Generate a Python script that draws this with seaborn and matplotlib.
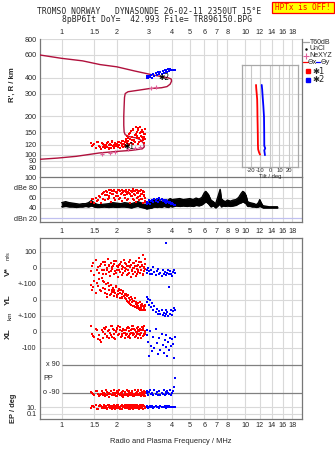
import numpy as np
import pandas as pd
import matplotlib
matplotlib.use("Agg")
import matplotlib.pyplot as plt
from matplotlib.lines import Line2D
from matplotlib.patches import Rectangle
from matplotlib.ticker import NullLocator
import seaborn as sns

# ---------------- data ----------------
freq_ticks = [1, 1.5, 2, 3, 4, 5, 6, 7, 8, 10, 12, 14, 16, 18]
freq_ticks_mid = [1, 1.5, 2, 3, 4, 5, 6, 7, 8, 9, 10, 12, 14, 16, 18]
height_ticks = [80, 90, 100, 120, 150, 200, 300, 400, 600, 800]
dbe_ticks = [20, 40, 60, 80, 100]
dbe_tick_labels = ["dBn 20", "40", "60", "dBe 80", "100"]
lower_tick_labels = ["100", "0", "+-100", "0", "+-100", "0", "-100"]
ep_tick_values = [10, 0.1]
ep_tick_labels = ["10.", "0.1"]
tilt_ticks = [-20, -10, 0, 10, 20]

# true-height / virtual-height profile (MHz, km)
profile_f = [0.762, 1.0, 1.3, 1.62, 2.0, 2.5, 3.0, 3.4, 3.8, 3.95, 3.97, 3.9, 3.75, 3.5,
             3.0, 2.6, 2.3, 2.22, 2.2, 2.19, 2.18, 2.18, 2.19, 2.22, 2.35, 2.55, 2.7,
             2.8, 2.82, 2.75, 2.4, 2.0, 1.6, 1.2, 0.95, 0.762]
profile_h = [600, 565, 540, 505, 485, 450, 425, 410, 398, 390, 375, 355, 340, 333,
             328, 318, 310, 300, 280, 240, 200, 170, 150, 143, 138, 135, 130,
             122, 115, 111, 108, 106, 103, 97, 94, 92]

nexyz_f = [1.66, 1.84, 1.95, 2.31, 2.51, 2.67, 3.08, 3.28]
nexyz_h = [102, 103, 104, 110, 112, 114, 333, 340]

# ordinary echoes (*1), first sweep
red_f = [1.44, 1.46, 1.50, 1.53, 1.57, 1.60, 1.63, 1.66, 1.68, 1.70,
         1.72, 1.74, 1.76, 1.78, 1.80, 1.82, 1.84, 1.86, 1.88, 1.90,
         1.92, 1.94, 1.96, 1.98, 2.00, 2.02, 2.04, 2.06, 2.08, 2.10,
         2.12, 2.14, 2.16, 2.18, 2.20, 2.22, 2.24, 2.26, 2.28, 2.30,
         2.32, 2.34, 2.36, 2.38, 2.40, 2.42, 2.44, 2.46, 2.48, 2.50,
         2.52, 2.54, 2.56, 2.58, 2.60, 2.62, 2.64, 2.66, 2.68, 2.70,
         2.72, 2.74, 2.76, 2.78, 2.80, 2.82, 2.84, 2.86]
red_h = [124, 117, 121, 113, 126, 116, 111, 123, 114, 119,
         112, 120, 115, 125, 111, 118, 122, 113, 127, 116,
         120, 112, 124, 117, 121, 114, 126, 118, 113, 123,
         117, 128, 115, 121, 125, 119, 132, 123, 141, 127,
         118, 146, 133, 124, 152, 137, 121, 158, 130, 143,
         126, 163, 139, 150, 122, 155, 134, 147, 165, 128,
         141, 157, 132, 150, 137, 124, 160, 144]
red_dbe = [52, 58, 50, 60, 55, 63, 49, 66, 58, 70,
           55, 72, 64, 58, 74, 62, 69, 52, 73, 66,
           60, 75, 56, 71, 68, 74, 62, 58, 72, 66,
           75, 54, 70, 64, 72, 60, 74, 66, 55, 71,
           68, 75, 50, 73, 62, 70, 76, 58, 66, 72,
           64, 52, 74, 60, 70, 68, 55, 73, 62, 75,
           58, 66, 72, 50, 64, 70, 54, 60]
red_v = [-20, 10, -45, 50, 5, -30, 25, -10, 40, -15,
         20, -35, 0, 55, -25, 15, -50, 30, -5, 10,
         -40, 25, -20, 45, -10, 5, -55, 20, -25, 35,
         -5, 15, -30, 50, 0, -20, 25, -45, 10, -15,
         40, -30, 5, -55, 20, -10, 30, -35, 0, 15,
         -25, 45, -5, -40, 20, -15, 60, 5, -30, 35,
         -10, 15, -45, 80, 0, -20, 25, -5]
red_yl = [95, 60, 120, 45, 85, 130, 55, 140, 75, 110,
          45, 100, 20, 105, 60, 85, 30, 95, 50, 75,
          25, 65, 45, 80, 20, 55, 35, 70, 15, 60,
          40, 10, 55, 25, 35, 10, 40, -5, 25, -15,
          15, -10, -25, 20, -30, 5, -40, -5, -35, 10,
          -45, -10, -30, -50, -20, -40, -55, -15, -60, -30,
          -50, -25, -65, -35, -45, -55, -40, -60]
red_xl = [40, -10, -30, 20, -45, -20, -60, 10, -35, 25,
          -15, 30, -25, 5, -40, 15, -5, 40, -30, 20,
          -15, 10, -45, 0, 25, -20, 35, -10, 15, -30,
          5, -15, 20, -5, -35, 10, -20, 25, -10, 30,
          -25, 5, -40, 15, -5, 20, -20, 35, -10, 10,
          -30, 0, 25, -15, 15, -35, 5, 20, -20, 10,
          -5, 30, -25, 15, -10, 40, 0, -15]
red_pp = [-85, -92, -100, -80, -95, -110, -98, -75, -102, -90,
          -96, -70, -104, -92, -88, -115, -95, -78, -100, -93,
          -106, -72, -97, -90, -112, -85, -99, -68, -104, -88,
          -96, -108, -76, -100, -86, -95, -102, -70, -97, -110,
          -90, -74, -99, -105, -92, -80, -101, -94, -108, -72,
          -96, -103, -86, -98, -76, -106, -94, -88, -100, -112,
          -70, -97, -85, -103, -95, -78, -108, -92]
red_ep = [4, 20, 8, 30, 3, 15, 25, 5, 12, 35,
          6, 18, 2.5, 28, 9, 40, 4, 14, 22, 6,
          32, 10, 3, 17, 26, 7, 38, 5, 13, 21,
          3.5, 30, 8, 16, 24, 4, 11, 36, 6, 19,
          2, 27, 9, 33, 5, 15, 23, 3, 12, 29,
          7, 18, 4, 34, 10, 25, 2.5, 14, 31, 6,
          20, 8, 37, 3, 16, 26, 5, 11]

# ordinary echoes (*1), second sweep
red2_f = [1.48, 1.55, 1.62, 1.69, 1.73, 1.77, 1.81, 1.85, 1.89, 1.93,
          1.97, 2.01, 2.05, 2.09, 2.13, 2.17, 2.21, 2.25, 2.29, 2.33,
          2.37, 2.41, 2.45, 2.49, 2.53, 2.57, 2.61, 2.65, 2.69, 2.73,
          2.77, 2.81, 2.85]
red2_h = [119, 125, 115, 121, 117, 124, 113, 120, 126, 114,
          122, 118, 125, 112, 121, 127, 116, 128, 136, 122,
          148, 131, 156, 127, 144, 135, 161, 125, 151, 138,
          129, 146, 132]
red2_dbe = [57, 54, 61, 68, 65, 71, 60, 75, 67, 72,
            63, 70, 74, 59, 69, 73, 64, 71, 58, 75,
            67, 62, 72, 56, 74, 69, 61, 73, 66, 57,
            71, 63, 52]
red2_v = [30, -15, 15, -40, 35, -10, 20, -20, 5, 45,
          -30, 10, -15, 25, -45, 5, 30, -5, -35, 15,
          50, -20, 0, 30, -50, 10, -25, 40, -10, 20,
          -35, 5, 55]
red2_yl = [80, 105, 65, 120, 70, 40, 90, 35, 65, 50,
           85, 30, 60, 45, 20, 50, 30, 5, 30, -20,
           0, -15, -35, -5, -25, -45, -20, -50, -35, -60,
           -40, -55, -30]
red2_xl = [-25, 15, -50, 0, 20, -30, 10, -20, 35, -40,
           5, 20, -15, 30, -25, 10, -5, 15, -30, 25,
           -15, 35, -5, 20, -25, 0, 30, -10, -35, 15,
           25, -20, 5]
red2_pp = [-95, -78, -105, -88, -112, -82, -96, -74, -100, -90,
           -108, -80, -94, -102, -86, -115, -90, -98, -76, -104,
           -92, -84, -110, -96, -88, -100, -72, -106, -94, -82,
           -98, -110, -86]
red2_ep = [15, 3, 28, 7, 20, 4, 35, 10, 2.5, 24,
           6, 31, 13, 3, 18, 9, 38, 5, 22, 12,
           2, 27, 8, 33, 4, 16, 25, 6, 30, 11,
           3.5, 21, 7]

# extraordinary echoes (*2)
blue_f = [2.90, 2.93, 2.96, 3.00, 3.04, 3.08, 3.12, 3.16, 3.20, 3.25,
          3.30, 3.35, 3.40, 3.45, 3.50, 3.55, 3.60, 3.65, 3.68, 3.72,
          3.76, 3.80, 3.84, 3.88, 3.92, 3.97, 4.02, 4.10, 4.15]
blue_h = [400, 410, 395, 415, 405, 420, 400, 425, 410, 435,
          418, 440, 425, 445, 430, 450, 435, 455, 440, 460,
          445, 465, 450, 470, 455, 462, 458, 455, 455]
blue_dbe = [48, 52, 50, 55, 47, 53, 56, 51, 58, 54,
            57, 52, 59, 55, 57, 53, 56, 52, 55, 50,
            54, 51, 49, 52, 48, 50, 47, 46, 45]
blue_v = [-10, -30, 0, -20, -40, -15, -35, 5, -25, -45,
          -20, -5, -40, -30, -50, -15, -35, -25, 158, -45,
          -30, -10, -40, -20, -35, -50, -25, -15, -30]
blue_yl = [20, -10, 5, -30, 0, -45, -20, -60, -40, -75,
           -55, -85, -70, -90, -60, -95, -80, -100, -65, -90,
           -75, -100, 80, -85, -60, -95, -70, -50, -65]
blue_xl = [10, -20, -60, -150, 5, -90, -120, -30, -100, 20,
           -70, -140, -40, -110, -10, -80, -130, -50, -95, -20,
           -150, -60, -110, -35, -90, -45, -75, -160, -30]
blue_pp = [-88, -75, -100, -85, -70, -98, -88, -104, -72, -96,
           -86, -100, -74, -106, -88, -97, -70, -102, -85, -94,
           -78, -88, -96, -72, -105, -88, -76, -50, 5]
blue_ep = [10, 15, 7, 12, 18, 8, 14, 6, 11, 16,
           9, 13, 7, 17, 10, 12, 8, 15, 11, 6,
           14, 9, 16, 10, 8, 12, 10, 10, 10]

# noise level (dBe), lower/upper envelope
noise_f = [1.00, 1.05, 1.10, 1.15, 1.20, 1.25, 1.30, 1.35, 1.40, 1.45,
           1.50, 1.55, 1.60, 1.70, 1.80, 1.90, 2.00, 2.10, 2.20, 2.30,
           2.40, 2.50, 2.60, 2.70, 2.80, 2.90, 3.00, 3.10, 3.20, 3.30,
           3.40, 3.50, 3.60, 3.70, 3.80, 3.90, 4.00, 4.20, 4.40, 4.60,
           4.80, 5.00, 5.20, 5.40, 5.60, 5.80, 6.00, 6.10, 6.30, 6.50,
           6.70, 6.90, 7.10, 7.30, 7.40, 7.60, 7.80, 8.00, 8.30, 8.60,
           8.90, 9.20, 9.50, 9.70, 9.90, 10.1, 10.3, 10.6, 10.9, 11.2,
           11.5, 11.8, 12.0, 12.2, 12.5, 13.0, 13.5, 14.0, 14.5, 15.0]
noise_lo = [42, 43, 42, 42, 41, 42, 42, 43, 42, 44,
            42, 41, 41, 42, 41, 42, 41, 42, 42, 41,
            40, 42, 43, 41, 40, 38, 39, 40, 42, 41,
            42, 41, 43, 42, 41, 43, 42, 44, 43, 44,
            43, 44, 43, 45, 44, 46, 50, 52, 48, 42,
            44, 40, 44, 48, 42, 44, 43, 44, 43, 44,
            45, 48, 50, 52, 50, 48, 43, 43, 42, 42,
            41, 42, 43, 42, 40, 40, 40, 40, 40, 40]
noise_hi = [50, 52, 50, 49, 48, 47, 48, 48, 50, 54,
            50, 47, 46, 47, 48, 50, 49, 48, 50, 49,
            48, 50, 52, 50, 47, 47, 52, 55, 54, 57,
            55, 52, 56, 54, 55, 58, 56, 57, 58, 56,
            57, 58, 56, 59, 57, 60, 70, 72, 66, 55,
            52, 48, 62, 76, 58, 54, 52, 55, 53, 55,
            56, 60, 68, 72, 70, 64, 52, 50, 49, 48,
            46, 50, 56, 50, 44, 43, 42, 42, 42, 42]

# tilt profiles (deg vs km)
tiltx_deg = [-14.7, -14.5, -14.0, -13.5, -13.3, -13.2, -13.0, -12.8, -12.7, -12.5, -11.5, -10.5]
tiltx_h = [350, 330, 300, 270, 230, 200, 170, 140, 120, 110, 104, 100]
tilty_deg = [-8.7, -8.2, -7.7, -7.0, -6.3, -6.1, -6.0, -5.0, -6.0, -5.3]
tilty_h = [350, 320, 282, 240, 198, 150, 117, 112, 108, 99]

# ---------------- style ----------------
sns.set_style("white")
plt.rcParams["font.family"] = ["Liberation Sans", "DejaVu Sans"]
plt.rcParams["font.size"] = 5.2

W, H = 335, 451
fig = plt.figure(figsize=(W / 100, H / 100), dpi=100)


def rect(x0, y0, x1, y1):
    return [x0 / W, 1 - y1 / H, (x1 - x0) / W, (y1 - y0) / H]


def fx(px):
    return px / W


def fy(py):
    return 1 - py / H


RED = "#ff0000"
BLUE = "#0000ff"
CRIMSON = "#b0103c"
PINK = "#e0609a"
GRID = "#d9d9d9"
DARK = "#777777"
XLIM = (0.762, 20.4)
MS = 4.0

ax_h = fig.add_axes(rect(40, 39, 302, 177))
ax_db = fig.add_axes(rect(40, 177, 302, 222))
ax_lo = fig.add_axes(rect(40, 238, 302, 419))
ax_t = fig.add_axes(rect(241.7, 65, 297.7, 167))


def freq_axis(ax, ticks, show, where):
    ax.set_xscale("log")
    ax.set_xlim(*XLIM)
    ax.set_xticks(ticks)
    ax.set_xticklabels([("%g" % t) for t in ticks] if show else [])
    ax.xaxis.set_minor_locator(NullLocator())
    ax.tick_params(axis="x", length=0, pad=2.5, labelsize=5.2,
                   top=(where == "top"), labeltop=(where == "top" and show),
                   bottom=(where == "bottom"), labelbottom=(where == "bottom" and show))
    for t in freq_ticks:
        ax.axvline(t, color=GRID, lw=0.8, zorder=0)


def squares(ax, x, y, color):
    sns.scatterplot(x=x, y=y, ax=ax, color=color, marker="s", s=MS,
                    linewidth=0, zorder=4)


all_red_f = red_f + red2_f

# ---- height panel ----
freq_axis(ax_h, freq_ticks, True, "top")
ax_h.set_yscale("log")
ax_h.set_ylim(66.9, 800)
ax_h.set_yticks(height_ticks)
ax_h.set_yticklabels([str(h) for h in height_ticks])
ax_h.yaxis.set_minor_locator(NullLocator())
ax_h.tick_params(axis="y", length=0, pad=2.5, labelsize=5.2)
for h in height_ticks:
    ax_h.axhline(h, color=GRID, lw=0.8, zorder=0)
for s in ["top", "bottom"]:
    ax_h.spines[s].set_visible(False)
for s in ["left", "right"]:
    ax_h.spines[s].set_color(DARK)
    ax_h.spines[s].set_linewidth(0.9)

sns.lineplot(x=profile_f, y=profile_h, sort=False, estimator=None, ax=ax_h,
             color=CRIMSON, lw=1.0, zorder=3)
squares(ax_h, all_red_f, red_h + red2_h, RED)
squares(ax_h, blue_f, blue_h, BLUE)
sns.scatterplot(x=nexyz_f, y=nexyz_h, ax=ax_h, color=PINK, marker="+", s=10,
                linewidth=0.8, zorder=5)
ax_h.text(2.16, 115, "\u27311", fontsize=5.5, color="black", va="center", ha="left",
          family=["DejaVu Sans"], zorder=6)
ax_h.text(3.35, 400, "\u27312", fontsize=5.5, color="black", va="center", ha="left",
          family=["DejaVu Sans"], zorder=6)
ax_h.set_xlabel("")
ax_h.set_ylabel("")

# ---- tilt inset ----
ax_t.set_facecolor("none")
ax_t.set_xlim(-29.8, 29.2)
ax_t.set_yscale("log")
ax_t.set_ylim(80, 501)
ax_t.set_yticks([])
ax_t.yaxis.set_minor_locator(NullLocator())
ax_t.set_xticks(tilt_ticks)
ax_t.set_xticklabels(["%d" % t for t in tilt_ticks])
ax_t.tick_params(axis="x", length=0, pad=1.0, labelsize=4.2)
for t in tilt_ticks:
    ax_t.axvline(t, color="#c8c8c8", lw=0.8, zorder=0)
for s in ax_t.spines.values():
    s.set_color("#a8a8a8")
    s.set_linewidth(0.9)
sns.lineplot(x=tiltx_deg, y=tiltx_h, sort=False, estimator=None, ax=ax_t,
             color=RED, lw=1.3)
sns.lineplot(x=tilty_deg, y=tilty_h, sort=False, estimator=None, ax=ax_t,
             color=BLUE, lw=1.3)
ax_t.set_xlabel("Tilt / deg", fontsize=4.2, labelpad=0.2)
ax_t.set_ylabel("")

# ---- dBe panel ----
freq_axis(ax_db, freq_ticks_mid, True, "bottom")
ax_db.tick_params(axis="x", pad=4)
ax_db.set_ylim(12.2, 100)
ax_db.set_yticks(dbe_ticks)
ax_db.set_yticklabels(dbe_tick_labels)
ax_db.tick_params(axis="y", length=0, pad=2.5, labelsize=5.2)
ax_db.axhline(80, color="#909090", lw=0.8, zorder=0)
ax_db.axhline(60, color=GRID, lw=0.8, zorder=0)
ax_db.axhline(40, color=GRID, lw=0.8, zorder=0)
ax_db.axhline(20, color="#c0c0f0", lw=0.9, zorder=0)
for s in ax_db.spines.values():
    s.set_color(DARK)
    s.set_linewidth(0.9)
ax_db.fill_between(noise_f, noise_lo, noise_hi, color="black", lw=0.6, zorder=2)
sns.lineplot(x=noise_f, y=noise_hi, ax=ax_db, color="black", lw=0.9, zorder=2)
sns.lineplot(x=noise_f, y=noise_lo, ax=ax_db, color="black", lw=0.9, zorder=2)
squares(ax_db, all_red_f, red_dbe + red2_dbe, RED)
squares(ax_db, blue_f, blue_dbe, BLUE)
ax_db.set_xlabel("")
ax_db.set_ylabel("")

# ---- lower composite panel (V*, YL, XL, PP, EP) ----
YL_OFF, XL_OFF = -200.0, -400.0
PP_MID, PP_SCALE = -693.75, 175.0 / 180.0
EP_BASE, EP_SCALE = -912.5, 21.875


def pos_pp(v):
    return [PP_MID + p * PP_SCALE for p in v]


def pos_ep(v):
    return [EP_BASE + (np.log10(e) + 1) * EP_SCALE for e in v]


freq_axis(ax_lo, freq_ticks, True, "bottom")
ax_lo.set_ylim(-943.75, 187.5)
v_pos = [100, 0, -100, -200, -300, -400, -500]
ep_pos = pos_ep(ep_tick_values)
ax_lo.set_yticks(v_pos + ep_pos)
ax_lo.set_yticklabels(lower_tick_labels + ep_tick_labels)
ax_lo.tick_params(axis="y", length=0, pad=2.5, labelsize=5.2)
for y in v_pos + ep_pos:
    ax_lo.axhline(y, color=GRID, lw=0.8, zorder=0)
pp_x90, pp_o90 = pos_pp([90, -90])
ax_lo.hlines([pp_x90, pp_o90], 1.0, XLIM[1], color="#808080", lw=0.9, zorder=1)
ax_lo.text(0.975, pp_x90, "x 90", ha="right", va="center", fontsize=5.2)
ax_lo.text(0.975, pp_o90, "o -90", ha="right", va="center", fontsize=5.2)
ax_lo.text(0.79, PP_MID, "PP", ha="left", va="center", fontsize=5.2)
for s in ax_lo.spines.values():
    s.set_color(DARK)
    s.set_linewidth(0.9)

for fr, col, v, yl, xl, pp, ep in [
        (all_red_f, RED, red_v + red2_v, red_yl + red2_yl, red_xl + red2_xl,
         red_pp + red2_pp, red_ep + red2_ep),
        (blue_f, BLUE, blue_v, blue_yl, blue_xl, blue_pp, blue_ep)]:
    squares(ax_lo, fr, v, col)
    squares(ax_lo, fr, [YL_OFF + a for a in yl], col)
    squares(ax_lo, fr, [XL_OFF + a for a in xl], col)
    squares(ax_lo, fr, pos_pp(pp), col)
    squares(ax_lo, fr, pos_ep(ep), col)
ax_lo.set_ylabel("")
ax_lo.set_xlabel("Radio and Plasma Frequency / MHz", fontsize=5.4, labelpad=6)

# ---- axis titles (figure text) ----
fig.text(fx(12.5), fy(85), "R', R / km", rotation=90, ha="center", va="center",
         fontsize=5.6, fontweight="bold")
fig.text(fx(8), fy(272), "V*", rotation=90, ha="center", va="center",
         fontsize=6, fontweight="bold")
fig.text(fx(8), fy(256), "m/s", rotation=90, ha="center", va="center", fontsize=4)
fig.text(fx(8), fy(300), "YL", rotation=90, ha="center", va="center",
         fontsize=6, fontweight="bold")
fig.text(fx(10), fy(316), "km", rotation=90, ha="center", va="center", fontsize=4.6)
fig.text(fx(8), fy(334), "XL", rotation=90, ha="center", va="center",
         fontsize=6, fontweight="bold")
fig.text(fx(13.5), fy(408), "EP / deg", rotation=90, ha="center", va="center",
         fontsize=5.4, fontweight="bold")

# ---- header ----
fig.text(fx(149.5), fy(11.7), "TROMSO NORWAY   DYNASONDE 26-02-11 2350UT 15\u00b0E",
         ha="center", va="center", fontsize=5.8, family=["DejaVu Sans Mono"])
fig.text(fx(157.5), fy(20), "8pBP6It DoY=  42.993 File= TR896150.BPG",
         ha="center", va="center", fontsize=5.8, family=["DejaVu Sans Mono"])
fig.add_artist(Rectangle((fx(271.7), fy(12.7)), (334 - 271.7) / W, 11 / H,
                         transform=fig.transFigure, facecolor="#ffff00",
                         edgecolor="#ff0000", lw=0.9))
fig.text(fx(303), fy(7.3), "HPTx is OFF!", ha="center", va="center", color="#ff0000",
         fontsize=5.6, family=["DejaVu Sans Mono"])


# ---- legend (right side) ----
def fline(x0, x1, y, color, lw=0.9):
    fig.add_artist(Line2D([fx(x0), fx(x1)], [fy(y), fy(y)], transform=fig.transFigure,
                          color=color, lw=lw))


fline(303.3, 308.5, 42, "#a0a0a0")
fig.text(fx(310), fy(42), "T60dB", va="center", fontsize=5)
fig.add_artist(Line2D([fx(306)], [fy(48.7)], transform=fig.transFigure, marker=".",
                      ms=1.5, color="black", lw=0))
fig.text(fx(310), fy(48.7), "UnCl", va="center", fontsize=5)
fig.add_artist(Line2D([fx(305.5)], [fy(55.7)], transform=fig.transFigure, marker="+",
                      ms=4, mew=0.8, color=PINK, lw=0))
fig.text(fx(309), fy(55.7), "NeXYZ", va="center", fontsize=5)
fline(303, 307.5, 62.3, RED)
fig.text(fx(308), fy(62.3), "\u0398x", va="center", fontsize=5, family=["DejaVu Sans"])
fline(315.5, 320, 62.3, BLUE)
fig.text(fx(320.5), fy(62.3), "\u0398y", va="center", fontsize=5, family=["DejaVu Sans"])
fig.add_artist(Line2D([fx(307.7)], [fy(71.3)], transform=fig.transFigure, marker="s",
                      ms=2.2, color=RED, lw=0))
fig.text(fx(312), fy(71.3), "\u27311", va="center", fontsize=6, family=["DejaVu Sans"])
fig.add_artist(Line2D([fx(307.7)], [fy(79.7)], transform=fig.transFigure, marker="s",
                      ms=2.2, color=BLUE, lw=0))
fig.text(fx(312), fy(79.7), "\u27312", va="center", fontsize=6, family=["DejaVu Sans"])

fig.savefig("out.png", dpi=100, facecolor="white")
